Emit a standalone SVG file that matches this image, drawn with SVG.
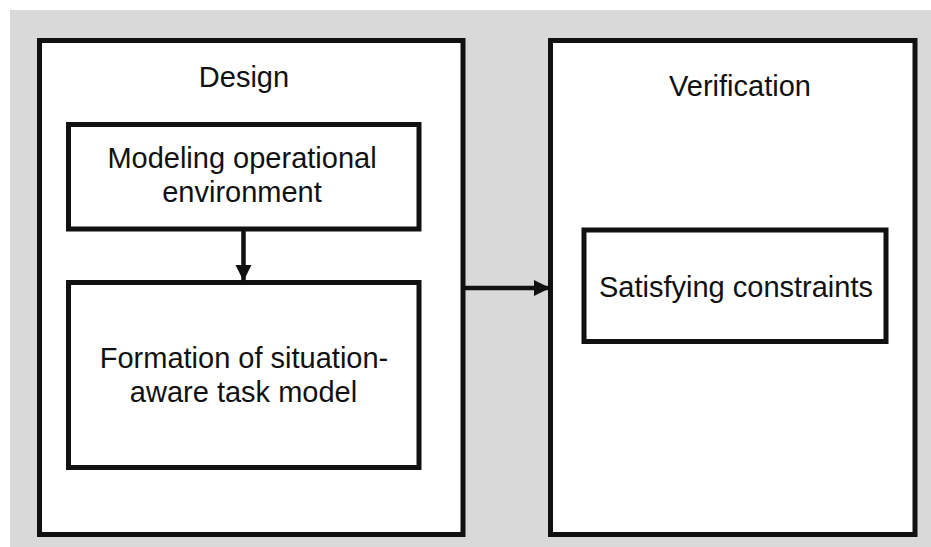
<svg xmlns="http://www.w3.org/2000/svg" width="931" height="547" viewBox="0 0 931 547">
<defs>
<style>
.box{fill:#ffffff;stroke:#111111;stroke-width:5}
.t{font-family:"Liberation Sans",Arial,sans-serif;font-size:29px;fill:#111111;text-anchor:middle}
.c{stroke:#111111;stroke-width:4.5;fill:none}
</style>
<marker id="ah" markerUnits="userSpaceOnUse" markerWidth="18" markerHeight="18" refX="16" refY="8" orient="auto">
<path d="M0,0 L16,8 L0,16 Z" fill="#111111"/>
</marker>
</defs>
<rect x="0" y="0" width="931" height="547" fill="#ffffff"/>
<rect x="10" y="10" width="921" height="537" fill="#d9d9d9"/>
<g id="design">
<rect class="box" x="39.5" y="40.5" width="423.5" height="494"/>
<text class="t" x="244" y="87">Design</text>
</g>
<g id="verification">
<rect class="box" x="550.5" y="40.5" width="364.5" height="494"/>
<text class="t" x="740" y="96">Verification</text>
</g>
<g id="modeling">
<rect class="box" x="68.5" y="124.5" width="350.5" height="104.5"/>
<text class="t" x="242" y="168">Modeling operational</text>
<text class="t" x="242" y="202">environment</text>
</g>
<g id="formation">
<rect class="box" x="68.5" y="282.5" width="350.5" height="185"/>
<text class="t" x="244" y="368">Formation of situation-</text>
<text class="t" x="243.5" y="402">aware task model</text>
</g>
<g id="satisfying">
<rect class="box" x="584" y="230" width="302" height="111.5"/>
<text class="t" x="736" y="297">Satisfying constraints</text>
</g>
<g id="connectors">
<line class="c" x1="243.5" y1="231" x2="243.5" y2="281" marker-end="url(#ah)"/>
<line class="c" x1="465" y1="288" x2="550" y2="288" marker-end="url(#ah)"/>
</g>
</svg>
